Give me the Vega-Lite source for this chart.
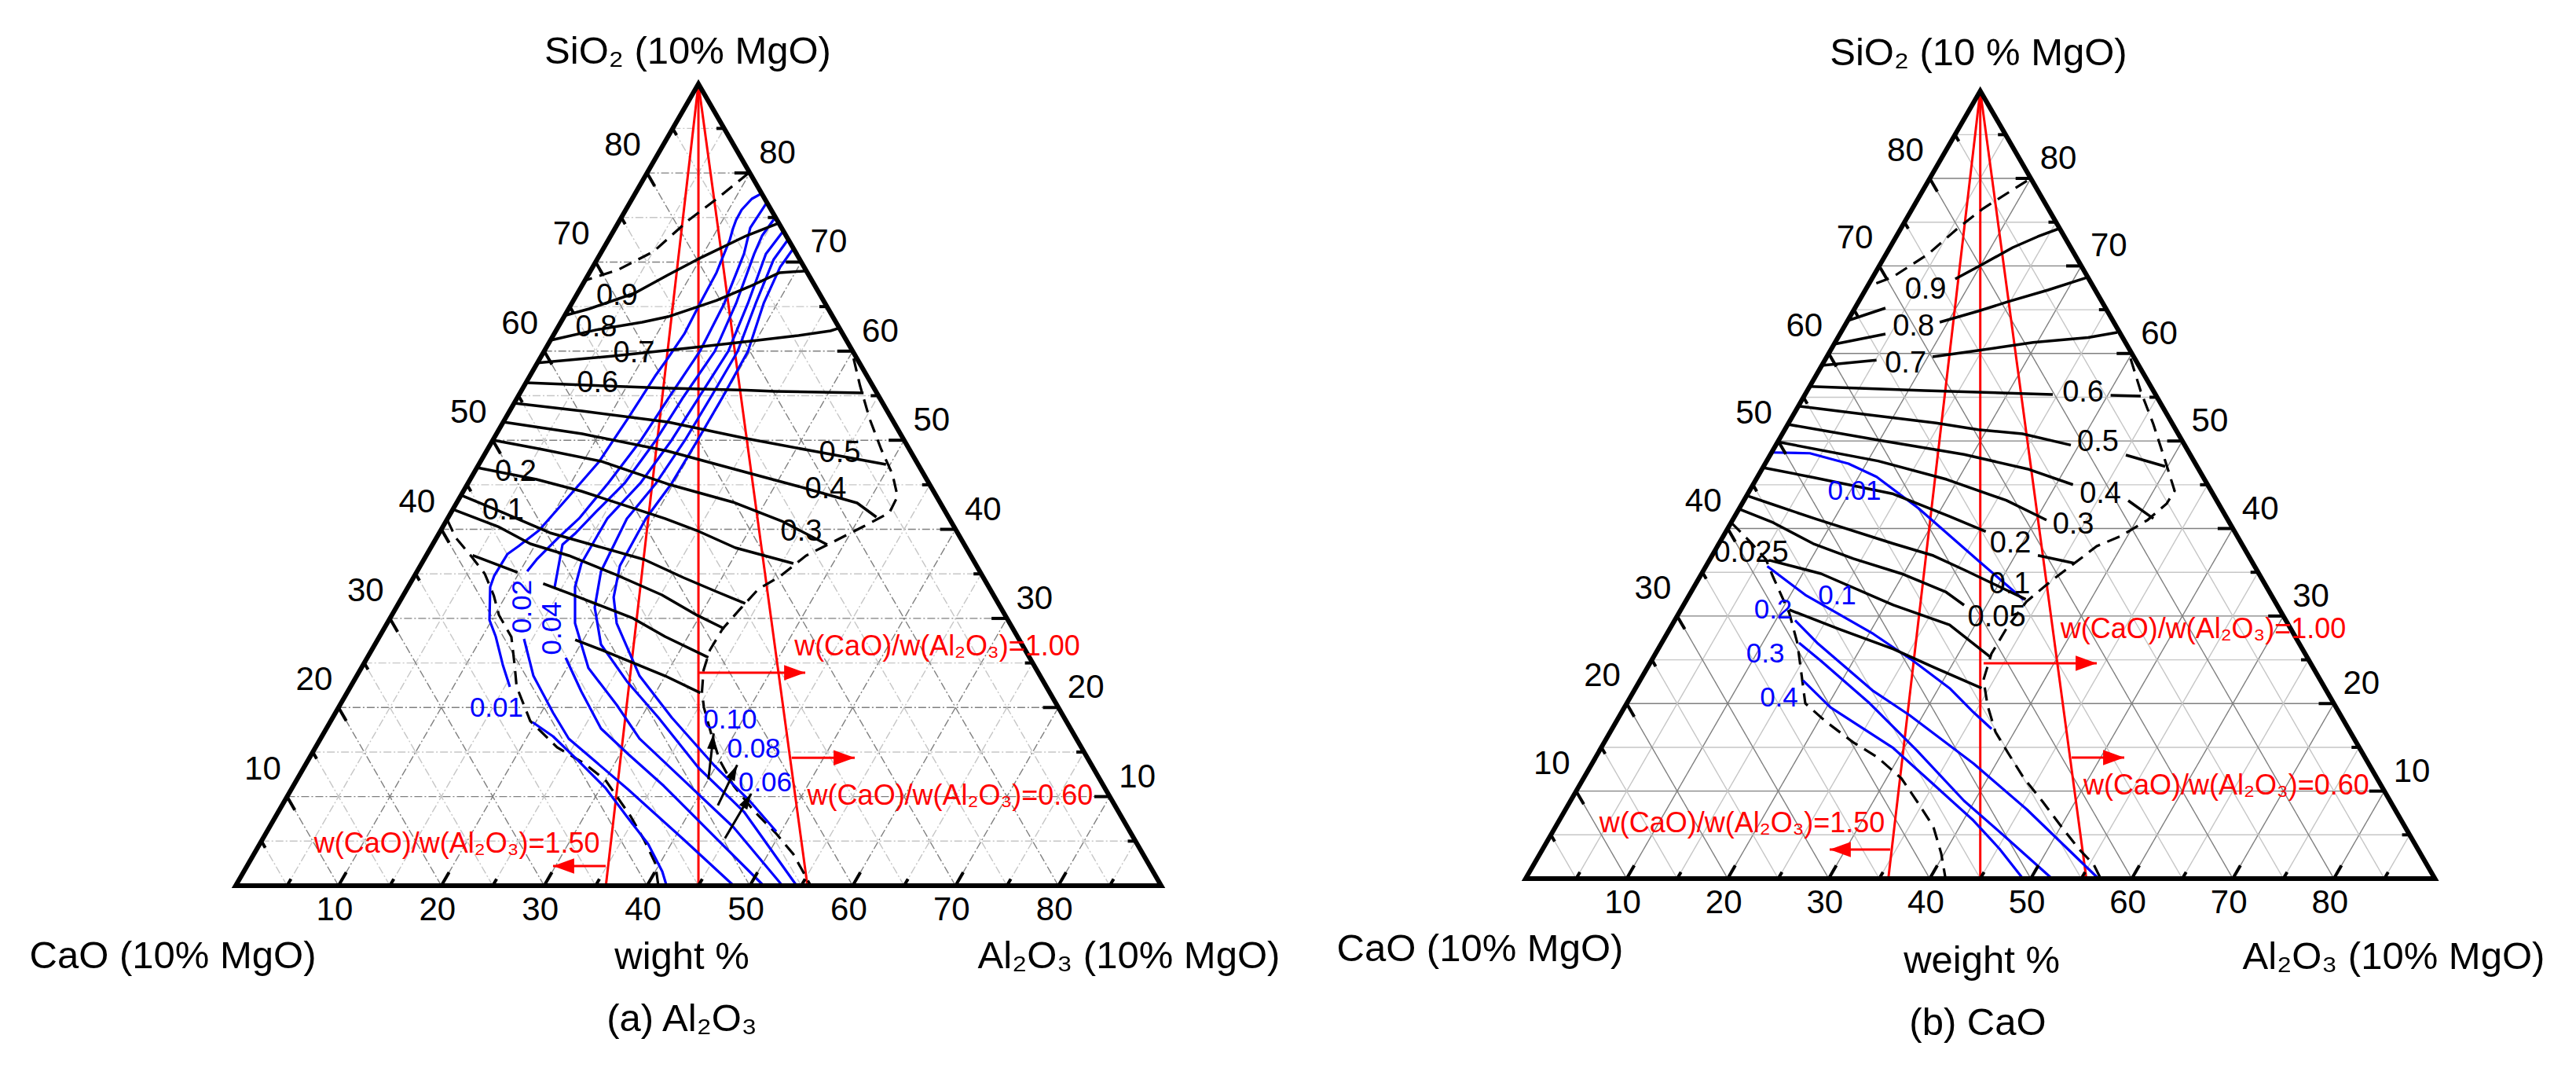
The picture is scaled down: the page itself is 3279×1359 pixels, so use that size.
{
"$schema":"https://vega.github.io/schema/vega-lite/v6.json",
"width":3279,"height":1359,"autosize":{"type":"none"},"padding":0,"background":"white",
"config":{"view":{"stroke":null},"font":"Liberation Sans"},
"datasets":{
"curves":[
{"p":"a","c":"ar15","k":"r","a":0,"s":90},{"p":"a","c":"ar15","k":"r","a":36,"s":0},
{"p":"a","c":"ar10","k":"r","a":0,"s":90},{"p":"a","c":"ar10","k":"r","a":45,"s":0},
{"p":"a","c":"ar06","k":"r","a":0,"s":90},{"p":"a","c":"ar06","k":"r","a":55.6,"s":0},
{"p":"a","c":"ad1","k":"d","a":9.9,"s":80},{"p":"a","c":"ad1","k":"d","a":8.24,"s":77.1},{"p":"a","c":"ad1","k":"d","a":6.7,"s":74.72},{"p":"a","c":"ad1","k":"d","a":5.05,"s":71.19},{"p":"a","c":"ad1","k":"d","a":2.66,"s":69.16},{"p":"a","c":"ad1","k":"d","a":0,"s":67.93},
{"p":"a","c":"ad2","k":"d","a":0,"s":41.11},{"p":"a","c":"ad2","k":"d","a":1.85,"s":39.08},{"p":"a","c":"ad2","k":"d","a":4.44,"s":36.96},{"p":"a","c":"ad2","k":"d","a":6.71,"s":35.02},{"p":"a","c":"ad2","k":"d","a":8.83,"s":32.55},{"p":"a","c":"ad2","k":"d","a":10.4,"s":30.39},{"p":"a","c":"ad2","k":"d","a":12.85,"s":27.92},{"p":"a","c":"ad2","k":"d","a":14.71,"s":24.82},{"p":"a","c":"ad2","k":"d","a":16.15,"s":22.34},{"p":"a","c":"ad2","k":"d","a":19.41,"s":18.48},{"p":"a","c":"ad2","k":"d","a":23.49,"s":15.53},{"p":"a","c":"ad2","k":"d","a":27.13,"s":13.67},{"p":"a","c":"ad2","k":"d","a":30.07,"s":11.82},{"p":"a","c":"ad2","k":"d","a":34.5,"s":7.8},{"p":"a","c":"ad2","k":"d","a":37.25,"s":5.03},{"p":"a","c":"ad2","k":"d","a":39.51,"s":2.56},{"p":"a","c":"ad2","k":"d","a":41.1,"s":0},
{"p":"a","c":"ad3","k":"d","a":30.49,"s":59.19},{"p":"a","c":"ad3","k":"d","a":32.67,"s":56.1},{"p":"a","c":"ad3","k":"d","a":35.45,"s":52.4},{"p":"a","c":"ad3","k":"d","a":38.3,"s":48.96},{"p":"a","c":"ad3","k":"d","a":40.78,"s":46.18},{"p":"a","c":"ad3","k":"d","a":42.51,"s":43.7},{"p":"a","c":"ad3","k":"d","a":42.64,"s":41.85},{"p":"a","c":"ad3","k":"d","a":40.88,"s":40.31},{"p":"a","c":"ad3","k":"d","a":38.64,"s":38.46},{"p":"a","c":"ad3","k":"d","a":36.94,"s":37.05},{"p":"a","c":"ad3","k":"d","a":35.6,"s":34.76},{"p":"a","c":"ad3","k":"d","a":34.17,"s":33.26},{"p":"a","c":"ad3","k":"d","a":33.48,"s":30.88},{"p":"a","c":"ad3","k":"d","a":32.94,"s":28.85},{"p":"a","c":"ad3","k":"d","a":32.89,"s":26.46},{"p":"a","c":"ad3","k":"d","a":33.41,"s":24.17},{"p":"a","c":"ad3","k":"d","a":34.45,"s":21.79},{"p":"a","c":"ad3","k":"d","a":35.52,"s":20.02},{"p":"a","c":"ad3","k":"d","a":37.67,"s":17.11},{"p":"a","c":"ad3","k":"d","a":40.0,"s":14.11},{"p":"a","c":"ad3","k":"d","a":42.83,"s":11.2},{"p":"a","c":"ad3","k":"d","a":46.33,"s":8.29},{"p":"a","c":"ad3","k":"d","a":49.56,"s":5.91},{"p":"a","c":"ad3","k":"d","a":52.47,"s":3.53},{"p":"a","c":"ad3","k":"d","a":55.92,"s":0},
{"p":"a","c":"ab01a","k":"b","a":12.32,"s":77.72},{"p":"a","c":"ab01a","k":"b","a":11.64,"s":77.1},{"p":"a","c":"ab01a","k":"b","a":11.27,"s":75.86},{"p":"a","c":"ab01a","k":"b","a":11.3,"s":74.72},{"p":"a","c":"ab01a","k":"b","a":11.48,"s":73.75},{"p":"a","c":"ab01a","k":"b","a":11.8,"s":72.51},{"p":"a","c":"ab01a","k":"b","a":12.35,"s":68.81},{"p":"a","c":"ab01a","k":"b","a":12.47,"s":65.37},{"p":"a","c":"ab01a","k":"b","a":12.66,"s":61.93},{"p":"a","c":"ab01a","k":"b","a":12.42,"s":59.19},{"p":"a","c":"ab01a","k":"b","a":12.2,"s":57.34},{"p":"a","c":"ab01a","k":"b","a":11.92,"s":52.4},{"p":"a","c":"ab01a","k":"b","a":11.55,"s":47.64},{"p":"a","c":"ab01a","k":"b","a":10.52,"s":43.58},{"p":"a","c":"ab01a","k":"b","a":9.55,"s":39.87},{"p":"a","c":"ab01a","k":"b","a":8.45,"s":38.11},{"p":"a","c":"ab01a","k":"b","a":7.82,"s":37.23},{"p":"a","c":"ab01a","k":"b","a":7.75,"s":34.76},{"p":"a","c":"ab01a","k":"b","a":7.99,"s":33.52},{"p":"a","c":"ab01a","k":"b","a":9.77,"s":29.82},{"p":"a","c":"ab01a","k":"b","a":11.31,"s":27.96},{"p":"a","c":"ab01a","k":"b","a":13.58,"s":24.79},{"p":"a","c":"ab01a","k":"b","a":15.5,"s":22.32},
{"p":"a","c":"ab01b","k":"b","a":19.7,"s":18.35},{"p":"a","c":"ab01b","k":"b","a":22.48,"s":16.76},{"p":"a","c":"ab01b","k":"b","a":26.29,"s":14.03},{"p":"a","c":"ab01b","k":"b","a":30.51,"s":10.94},{"p":"a","c":"ab01b","k":"b","a":34.16,"s":7.76},{"p":"a","c":"ab01b","k":"b","a":37.77,"s":4.68},{"p":"a","c":"ab01b","k":"b","a":40.69,"s":1.59},{"p":"a","c":"ab01b","k":"b","a":41.9,"s":0},
{"p":"a","c":"ab02a","k":"b","a":13.31,"s":76.66},{"p":"a","c":"ab02a","k":"b","a":13.12,"s":73.84},{"p":"a","c":"ab02a","k":"b","a":13.97,"s":70.93},{"p":"a","c":"ab02a","k":"b","a":14.83,"s":65.37},{"p":"a","c":"ab02a","k":"b","a":15.15,"s":59.99},{"p":"a","c":"ab02a","k":"b","a":14.74,"s":54.87},{"p":"a","c":"ab02a","k":"b","a":14.41,"s":50.02},{"p":"a","c":"ab02a","k":"b","a":13.63,"s":45.17},{"p":"a","c":"ab02a","k":"b","a":12.78,"s":41.2},{"p":"a","c":"ab02a","k":"b","a":11.89,"s":39.17},{"p":"a","c":"ab02a","k":"b","a":10.96,"s":36.61},{"p":"a","c":"ab02a","k":"b","a":10.7,"s":35.29},
{"p":"a","c":"ab02b","k":"b","a":14.19,"s":27.7},{"p":"a","c":"ab02b","k":"b","a":17.18,"s":23.55},{"p":"a","c":"ab02b","k":"b","a":21.16,"s":19.41},{"p":"a","c":"ab02b","k":"b","a":24.14,"s":16.5},{"p":"a","c":"ab02b","k":"b","a":32.82,"s":10.76},{"p":"a","c":"ab02b","k":"b","a":40.94,"s":5.2},{"p":"a","c":"ab02b","k":"b","a":48.43,"s":0},
{"p":"a","c":"ab04a","k":"b","a":14.98,"s":75.16},{"p":"a","c":"ab04a","k":"b","a":14.71,"s":72.95},{"p":"a","c":"ab04a","k":"b","a":14.96,"s":70.93},{"p":"a","c":"ab04a","k":"b","a":15.98,"s":65.37},{"p":"a","c":"ab04a","k":"b","a":16.6,"s":59.99},{"p":"a","c":"ab04a","k":"b","a":16.11,"s":54.87},{"p":"a","c":"ab04a","k":"b","a":15.86,"s":50.02},{"p":"a","c":"ab04a","k":"b","a":15.23,"s":45.17},{"p":"a","c":"ab04a","k":"b","a":14.1,"s":42.08},{"p":"a","c":"ab04a","k":"b","a":13.28,"s":39.61},{"p":"a","c":"ab04a","k":"b","a":12.64,"s":38.28},{"p":"a","c":"ab04a","k":"b","a":14.26,"s":33.52},
{"p":"a","c":"ab04b","k":"b","a":19.3,"s":25.58},{"p":"a","c":"ab04b","k":"b","a":22.72,"s":21.79},{"p":"a","c":"ab04b","k":"b","a":26.7,"s":17.64},{"p":"a","c":"ab04b","k":"b","a":30.84,"s":14.73},{"p":"a","c":"ab04b","k":"b","a":36.03,"s":11.2},{"p":"a","c":"ab04b","k":"b","a":44.11,"s":5.29},{"p":"a","c":"ab04b","k":"b","a":51.34,"s":0},
{"p":"a","c":"ab06","k":"b","a":16.51,"s":73.48},{"p":"a","c":"ab06","k":"b","a":16.1,"s":70.93},{"p":"a","c":"ab06","k":"b","a":17.13,"s":65.37},{"p":"a","c":"ab06","k":"b","a":17.91,"s":59.99},{"p":"a","c":"ab06","k":"b","a":17.64,"s":54.87},{"p":"a","c":"ab06","k":"b","a":17.39,"s":50.02},{"p":"a","c":"ab06","k":"b","a":16.76,"s":45.17},{"p":"a","c":"ab06","k":"b","a":15.53,"s":41.2},{"p":"a","c":"ab06","k":"b","a":15.53,"s":36.17},{"p":"a","c":"ab06","k":"b","a":16.24,"s":33.52},{"p":"a","c":"ab06","k":"b","a":18.27,"s":29.46},{"p":"a","c":"ab06","k":"b","a":22.08,"s":24.44},{"p":"a","c":"ab06","k":"b","a":26.91,"s":20.29},{"p":"a","c":"ab06","k":"b","a":31.02,"s":16.5},{"p":"a","c":"ab06","k":"b","a":37.28,"s":12.09},{"p":"a","c":"ab06","k":"b","a":45.17,"s":6.53},{"p":"a","c":"ab06","k":"b","a":53.17,"s":0},
{"p":"a","c":"ab08","k":"b","a":17.45,"s":72.51},{"p":"a","c":"ab08","k":"b","a":17.17,"s":70.31},{"p":"a","c":"ab08","k":"b","a":17.89,"s":65.37},{"p":"a","c":"ab08","k":"b","a":18.82,"s":59.99},{"p":"a","c":"ab08","k":"b","a":18.79,"s":54.87},{"p":"a","c":"ab08","k":"b","a":18.69,"s":50.02},{"p":"a","c":"ab08","k":"b","a":18.29,"s":45.17},{"p":"a","c":"ab08","k":"b","a":17.44,"s":41.2},{"p":"a","c":"ab08","k":"b","a":17.88,"s":35.29},{"p":"a","c":"ab08","k":"b","a":19.3,"s":31.23},{"p":"a","c":"ab08","k":"b","a":21.98,"s":27.08},{"p":"a","c":"ab08","k":"b","a":26.57,"s":22.94},{"p":"a","c":"ab08","k":"b","a":31.66,"s":18.88},{"p":"a","c":"ab08","k":"b","a":38.39,"s":13.23},{"p":"a","c":"ab08","k":"b","a":45.29,"s":8.29},{"p":"a","c":"ab08","k":"b","a":54.55,"s":0},
{"p":"a","c":"ab10","k":"b","a":18.47,"s":71.54},{"p":"a","c":"ab10","k":"b","a":18.23,"s":69.43},{"p":"a","c":"ab10","k":"b","a":18.66,"s":65.37},{"p":"a","c":"ab10","k":"b","a":19.82,"s":59.99},{"p":"a","c":"ab10","k":"b","a":19.93,"s":54.87},{"p":"a","c":"ab10","k":"b","a":19.91,"s":50.02},{"p":"a","c":"ab10","k":"b","a":19.82,"s":45.17},{"p":"a","c":"ab10","k":"b","a":19.28,"s":41.2},{"p":"a","c":"ab10","k":"b","a":19.41,"s":35.9},{"p":"a","c":"ab10","k":"b","a":20.57,"s":32.37},{"p":"a","c":"ab10","k":"b","a":22.32,"s":29.46},{"p":"a","c":"ab10","k":"b","a":27.5,"s":23.55},{"p":"a","c":"ab10","k":"b","a":32.96,"s":18.88},{"p":"a","c":"ab10","k":"b","a":39.9,"s":13.41},{"p":"a","c":"ab10","k":"b","a":45.32,"s":9.44},{"p":"a","c":"ab10","k":"b","a":49.52,"s":6.09},
{"p":"a","c":"ak9","k":"k","a":0,"s":64},{"p":"a","c":"ak9","k":"k","a":2.0,"s":64.75},{"p":"a","c":"ak9","k":"k","a":5.55,"s":66.51},{"p":"a","c":"ak9","k":"k","a":7.75,"s":68.54},{"p":"a","c":"ak9","k":"k","a":9.77,"s":70.31},{"p":"a","c":"ak9","k":"k","a":13.18,"s":72.95},{"p":"a","c":"ak9","k":"k","a":15.67,"s":74.4},
{"p":"a","c":"ak8","k":"k","a":0,"s":61.22},{"p":"a","c":"ak8","k":"k","a":3.9,"s":62.4},{"p":"a","c":"ak8","k":"k","a":7.9,"s":63.25},{"p":"a","c":"ak8","k":"k","a":10.1,"s":63.86},{"p":"a","c":"ak8","k":"k","a":13.9,"s":65.68},{"p":"a","c":"ak8","k":"k","a":16.3,"s":67.22},{"p":"a","c":"ak8","k":"k","a":18.5,"s":68.81},{"p":"a","c":"ak8","k":"k","a":21.0,"s":69.0},
{"p":"a","c":"ak7","k":"k","a":0,"s":58.69},{"p":"a","c":"ak7","k":"k","a":7.0,"s":59.46},{"p":"a","c":"ak7","k":"k","a":13.8,"s":60.34},{"p":"a","c":"ak7","k":"k","a":19.4,"s":61.1},{"p":"a","c":"ak7","k":"k","a":23.8,"s":61.75},{"p":"a","c":"ak7","k":"k","a":26.7,"s":62.28},{"p":"a","c":"ak7","k":"k","a":27.4,"s":62.6},
{"p":"a","c":"ak6","k":"k","a":0,"s":56.46},{"p":"a","c":"ak6","k":"k","a":13.6,"s":55.85},{"p":"a","c":"ak6","k":"k","a":21.85,"s":55.61},{"p":"a","c":"ak6","k":"k","a":24.7,"s":55.49},{"p":"a","c":"ak6","k":"k","a":33.4,"s":55.31},
{"p":"a","c":"ak5","k":"k","a":0,"s":54.16},{"p":"a","c":"ak5","k":"k","a":7.05,"s":53.28},{"p":"a","c":"ak5","k":"k","a":16.0,"s":52.05},{"p":"a","c":"ak5","k":"k","a":24.56,"s":50.19},{"p":"a","c":"ak5","k":"k","a":32.27,"s":48.69},{"p":"a","c":"ak5","k":"k","a":39.6,"s":47.28},
{"p":"a","c":"ak4","k":"k","a":0,"s":52.05},{"p":"a","c":"ak4","k":"k","a":8.33,"s":50.72},{"p":"a","c":"ak4","k":"k","a":17.63,"s":48.78},{"p":"a","c":"ak4","k":"k","a":24.96,"s":46.8},{"p":"a","c":"ak4","k":"k","a":32.99,"s":44.64},{"p":"a","c":"ak4","k":"k","a":38.95,"s":42.96},{"p":"a","c":"ak4","k":"k","a":41.62,"s":41.37},
{"p":"a","c":"ak3","k":"k","a":0,"s":50.02},{"p":"a","c":"ak3","k":"k","a":5.39,"s":48.96},{"p":"a","c":"ak3","k":"k","a":11.7,"s":47.64},{"p":"a","c":"ak3","k":"k","a":19.48,"s":45.08},{"p":"a","c":"ak3","k":"k","a":26.83,"s":43.05},{"p":"a","c":"ak3","k":"k","a":32.63,"s":40.93},{"p":"a","c":"ak3","k":"k","a":38.38,"s":38.28},
{"p":"a","c":"ak2","k":"k","a":0,"s":46.93},{"p":"a","c":"ak2","k":"k","a":6.45,"s":45.61},{"p":"a","c":"ak2","k":"k","a":11.47,"s":44.28},{"p":"a","c":"ak2","k":"k","a":21.15,"s":41.2},{"p":"a","c":"ak2","k":"k","a":24.9,"s":39.87},{"p":"a","c":"ak2","k":"k","a":29.62,"s":37.93},{"p":"a","c":"ak2","k":"k","a":36.15,"s":36.17},
{"p":"a","c":"ak1","k":"k","a":0,"s":43.84},{"p":"a","c":"ak1","k":"k","a":5.02,"s":41.9},{"p":"a","c":"ak1","k":"k","a":10.75,"s":39.61},{"p":"a","c":"ak1","k":"k","a":16.09,"s":38.11},{"p":"a","c":"ak1","k":"k","a":21.42,"s":36.61},{"p":"a","c":"ak1","k":"k","a":26.25,"s":34.58},{"p":"a","c":"ak1","k":"k","a":30.06,"s":33.08},{"p":"a","c":"ak1","k":"k","a":33.72,"s":31.67},
{"p":"a","c":"akx1","k":"k","a":0,"s":42.25},{"p":"a","c":"akx1","k":"k","a":5.36,"s":40.31},{"p":"a","c":"akx1","k":"k","a":9.47,"s":38.37},{"p":"a","c":"akx1","k":"k","a":13.87,"s":37.05},{"p":"a","c":"akx1","k":"k","a":19.24,"s":35.02},{"p":"a","c":"akx1","k":"k","a":25.12,"s":32.64},{"p":"a","c":"akx1","k":"k","a":29.7,"s":30.35},{"p":"a","c":"akx1","k":"k","a":33.1,"s":28.85},
{"p":"a","c":"akx2a","k":"k","a":4.5,"s":37.08},{"p":"a","c":"akx2a","k":"k","a":9.83,"s":35.17},
{"p":"a","c":"akx2b","k":"k","a":12.95,"s":33.9},{"p":"a","c":"akx2b","k":"k","a":15.98,"s":32.82},{"p":"a","c":"akx2b","k":"k","a":23.62,"s":30.02},{"p":"a","c":"akx2b","k":"k","a":27.77,"s":27.96},{"p":"a","c":"akx2b","k":"k","a":33.16,"s":25.61},
{"p":"a","c":"akx3","k":"k","a":19.21,"s":27.61},{"p":"a","c":"akx3","k":"k","a":22.27,"s":26.49},{"p":"a","c":"akx3","k":"k","a":26.12,"s":25.03},{"p":"a","c":"akx3","k":"k","a":29.98,"s":23.55},{"p":"a","c":"akx3","k":"k","a":34.36,"s":21.64},
{"p":"b","c":"br15","k":"r","a":0,"s":90},{"p":"b","c":"br15","k":"r","a":35.9,"s":0},
{"p":"b","c":"br10","k":"r","a":0,"s":90},{"p":"b","c":"br10","k":"r","a":45,"s":0},
{"p":"b","c":"br06","k":"r","a":0,"s":90},{"p":"b","c":"br06","k":"r","a":55.5,"s":0},
{"p":"b","c":"bd1","k":"d","a":9.75,"s":79.73},{"p":"b","c":"bd1","k":"d","a":6.99,"s":76.54},{"p":"b","c":"bd1","k":"d","a":5.62,"s":74.3},{"p":"b","c":"bd1","k":"d","a":4.15,"s":71.33},{"p":"b","c":"bd1","k":"d","a":1.95,"s":68.72},{"p":"b","c":"bd1","k":"d","a":0,"s":67.61},
{"p":"b","c":"bd2","k":"d","a":0,"s":40.68},{"p":"b","c":"bd2","k":"d","a":2.82,"s":38.61},{"p":"b","c":"bd2","k":"d","a":5.56,"s":36.46},{"p":"b","c":"bd2","k":"d","a":7.25,"s":34.48},{"p":"b","c":"bd2","k":"d","a":10.92,"s":30.35},{"p":"b","c":"bd2","k":"d","a":13.42,"s":26.94},{"p":"b","c":"bd2","k":"d","a":15.55,"s":23.48},{"p":"b","c":"bd2","k":"d","a":17.67,"s":20.02},{"p":"b","c":"bd2","k":"d","a":20.68,"s":17.98},{"p":"b","c":"bd2","k":"d","a":24.64,"s":15.57},{"p":"b","c":"bd2","k":"d","a":27.91,"s":13.85},{"p":"b","c":"bd2","k":"d","a":31.48,"s":11.44},{"p":"b","c":"bd2","k":"d","a":34.45,"s":8.71},{"p":"b","c":"bd2","k":"d","a":37.39,"s":5.93},{"p":"b","c":"bd2","k":"d","a":39.7,"s":2.87},{"p":"b","c":"bd2","k":"d","a":41.56,"s":0},
{"p":"b","c":"bd3","k":"d","a":30.17,"s":59.41},{"p":"b","c":"bd3","k":"d","a":33.05,"s":55.67},{"p":"b","c":"bd3","k":"d","a":36.15,"s":51.95},{"p":"b","c":"bd3","k":"d","a":39.62,"s":47.5},{"p":"b","c":"bd3","k":"d","a":42.08,"s":44.31},{"p":"b","c":"bd3","k":"d","a":42.03,"s":42.83},{"p":"b","c":"bd3","k":"d","a":41.07,"s":40.96},{"p":"b","c":"bd3","k":"d","a":39.29,"s":39.1},{"p":"b","c":"bd3","k":"d","a":37.54,"s":37.98},{"p":"b","c":"bd3","k":"d","a":36.24,"s":35.93},{"p":"b","c":"bd3","k":"d","a":34.93,"s":33.88},{"p":"b","c":"bd3","k":"d","a":33.75,"s":31.64},{"p":"b","c":"bd3","k":"d","a":33.31,"s":28.66},{"p":"b","c":"bd3","k":"d","a":33.26,"s":25.68},{"p":"b","c":"bd3","k":"d","a":33.96,"s":22.72},{"p":"b","c":"bd3","k":"d","a":35.85,"s":19.75},{"p":"b","c":"bd3","k":"d","a":38.13,"s":16.75},{"p":"b","c":"bd3","k":"d","a":40.56,"s":14.37},{"p":"b","c":"bd3","k":"d","a":43.56,"s":11.49},{"p":"b","c":"bd3","k":"d","a":46.77,"s":8.8},{"p":"b","c":"bd3","k":"d","a":50.07,"s":5.93},{"p":"b","c":"bd3","k":"d","a":53.04,"s":3.41},{"p":"b","c":"bd3","k":"d","a":55.41,"s":1.62},{"p":"b","c":"bd3","k":"d","a":56.92,"s":0},
{"p":"b","c":"bb001","k":"b","a":0,"s":48.69},{"p":"b","c":"bb001","k":"b","a":3.83,"s":48.6},{"p":"b","c":"bb001","k":"b","a":8.25,"s":47.41},{"p":"b","c":"bb001","k":"b","a":11.78,"s":45.91},{"p":"b","c":"bb001","k":"b","a":17.72,"s":42.32},{"p":"b","c":"bb001","k":"b","a":26.62,"s":36.34},{"p":"b","c":"bb001","k":"b","a":33.38,"s":31.85},
{"p":"b","c":"bb01","k":"b","a":6.07,"s":35.69},{"p":"b","c":"bb01","k":"b","a":11.48,"s":32.41},{"p":"b","c":"bb01","k":"b","a":20.45,"s":27.95},{"p":"b","c":"bb01","k":"b","a":25.97,"s":24.85},{"p":"b","c":"bb01","k":"b","a":31.08,"s":21.76},{"p":"b","c":"bb01","k":"b","a":34.82,"s":19.01},{"p":"b","c":"bb01","k":"b","a":37.56,"s":17.11},
{"p":"b","c":"bb02","k":"b","a":11.92,"s":29.5},{"p":"b","c":"bb02","k":"b","a":15.38,"s":26.94},{"p":"b","c":"bb02","k":"b","a":23.71,"s":21.42},{"p":"b","c":"bb02","k":"b","a":28.65,"s":18.68},{"p":"b","c":"bb02","k":"b","a":37.75,"s":13.15},{"p":"b","c":"bb02","k":"b","a":45.66,"s":7.9},{"p":"b","c":"bb02","k":"b","a":56.7,"s":0},
{"p":"b","c":"bb03","k":"b","a":13.59,"s":26.94},{"p":"b","c":"bb03","k":"b","a":16.8,"s":24.87},{"p":"b","c":"bb03","k":"b","a":24.05,"s":20.02},{"p":"b","c":"bb03","k":"b","a":31.4,"s":14.64},{"p":"b","c":"bb03","k":"b","a":38.95,"s":8.89},{"p":"b","c":"bb03","k":"b","a":45.5,"s":4.49},{"p":"b","c":"bb03","k":"b","a":52.1,"s":0},
{"p":"b","c":"bb04","k":"b","a":16.14,"s":22.63},{"p":"b","c":"bb04","k":"b","a":20.39,"s":19.57},{"p":"b","c":"bb04","k":"b","a":28.94,"s":14.91},{"p":"b","c":"bb04","k":"b","a":34.98,"s":10.77},{"p":"b","c":"bb04","k":"b","a":41.0,"s":6.64},{"p":"b","c":"bb04","k":"b","a":45.19,"s":3.41},{"p":"b","c":"bb04","k":"b","a":49.22,"s":0},
{"p":"b","c":"bk9a","k":"k","a":0,"s":63.75},{"p":"b","c":"bk9a","k":"k","a":3.02,"s":65.19},
{"p":"b","c":"bk9b","k":"k","a":8.27,"s":68.51},{"p":"b","c":"bk9b","k":"k","a":10.15,"s":70.22},{"p":"b","c":"bk9b","k":"k","a":12.16,"s":72.1},{"p":"b","c":"bk9b","k":"k","a":14.02,"s":73.36},{"p":"b","c":"bk9b","k":"k","a":15.73,"s":74.3},
{"p":"b","c":"bk8a","k":"k","a":0,"s":61.06},{"p":"b","c":"bk8a","k":"k","a":4.5,"s":62.23},
{"p":"b","c":"bk8b","k":"k","a":9.2,"s":63.57},{"p":"b","c":"bk8b","k":"k","a":12.35,"s":64.83},{"p":"b","c":"bk8b","k":"k","a":14.79,"s":65.91},{"p":"b","c":"bk8b","k":"k","a":18.09,"s":67.25},{"p":"b","c":"bk8b","k":"k","a":21.32,"s":68.72},
{"p":"b","c":"bk7a","k":"k","a":0,"s":58.63},{"p":"b","c":"bk7a","k":"k","a":5.11,"s":59.24},
{"p":"b","c":"bk7b","k":"k","a":10.47,"s":59.62},{"p":"b","c":"bk7b","k":"k","a":14.59,"s":60.34},{"p":"b","c":"bk7b","k":"k","a":19.59,"s":61.26},{"p":"b","c":"bk7b","k":"k","a":24.77,"s":61.82},{"p":"b","c":"bk7b","k":"k","a":27.35,"s":62.4},
{"p":"b","c":"bk6a","k":"k","a":0,"s":56.24},{"p":"b","c":"bk6a","k":"k","a":11.62,"s":55.76},{"p":"b","c":"bk6a","k":"k","a":24.52,"s":55.31},
{"p":"b","c":"bk6b","k":"k","a":30.29,"s":55.22},{"p":"b","c":"bk6b","k":"k","a":33.32,"s":55.13},
{"p":"b","c":"bk5a","k":"k","a":0,"s":53.99},{"p":"b","c":"bk5a","k":"k","a":7.57,"s":52.98},{"p":"b","c":"bk5a","k":"k","a":14.6,"s":52.05},{"p":"b","c":"bk5a","k":"k","a":19.14,"s":51.3},{"p":"b","c":"bk5a","k":"k","a":23.77,"s":50.82},{"p":"b","c":"bk5a","k":"k","a":29.2,"s":49.53},
{"p":"b","c":"bk5b","k":"k","a":35.21,"s":48.4},{"p":"b","c":"bk5b","k":"k","a":39.75,"s":47.1},
{"p":"b","c":"bk4a","k":"k","a":0,"s":51.9},{"p":"b","c":"bk4a","k":"k","a":9.85,"s":50.1},{"p":"b","c":"bk4a","k":"k","a":19.16,"s":48.46},{"p":"b","c":"bk4a","k":"k","a":26.25,"s":46.81},{"p":"b","c":"bk4a","k":"k","a":31.67,"s":45.01},
{"p":"b","c":"bk4b","k":"k","a":38.05,"s":43.19},{"p":"b","c":"bk4b","k":"k","a":41.57,"s":41.13},
{"p":"b","c":"bk3","k":"k","a":0,"s":49.9},{"p":"b","c":"bk3","k":"k","a":11.04,"s":47.71},{"p":"b","c":"bk3","k":"k","a":18.87,"s":45.61},{"p":"b","c":"bk3","k":"k","a":25.96,"s":43.22},{"p":"b","c":"bk3","k":"k","a":31.07,"s":40.97},
{"p":"b","c":"bk2a","k":"k","a":0,"s":46.96},{"p":"b","c":"bk2a","k":"k","a":5.54,"s":45.84},{"p":"b","c":"bk2a","k":"k","a":14.42,"s":43.95},{"p":"b","c":"bk2a","k":"k","a":21.27,"s":41.39},{"p":"b","c":"bk2a","k":"k","a":25.72,"s":39.65},
{"p":"b","c":"bk2b","k":"k","a":32.24,"s":36.93},{"p":"b","c":"bk2b","k":"k","a":36.32,"s":36.03},
{"p":"b","c":"bk1","k":"k","a":0,"s":43.77},{"p":"b","c":"bk1","k":"k","a":3.12,"s":42.74},{"p":"b","c":"bk1","k":"k","a":8.33,"s":41.04},{"p":"b","c":"bk1","k":"k","a":17.26,"s":38.27},{"p":"b","c":"bk1","k":"k","a":21.91,"s":36.9},{"p":"b","c":"bk1","k":"k","a":25.95,"s":35.2},{"p":"b","c":"bk1","k":"k","a":33.55,"s":31.91},
{"p":"b","c":"bk05","k":"k","a":0,"s":42.23},{"p":"b","c":"bk05","k":"k","a":4.15,"s":40.68},{"p":"b","c":"bk05","k":"k","a":9.33,"s":38.27},{"p":"b","c":"bk05","k":"k","a":14.16,"s":36.55},{"p":"b","c":"bk05","k":"k","a":19.78,"s":34.84},{"p":"b","c":"bk05","k":"k","a":25.18,"s":32.77},{"p":"b","c":"bk05","k":"k","a":27.77,"s":31.25},
{"p":"b","c":"bk025","k":"k","a":5.92,"s":36.38},{"p":"b","c":"bk025","k":"k","a":11.82,"s":34.84},{"p":"b","c":"bk025","k":"k","a":20.77,"s":31.25},{"p":"b","c":"bk025","k":"k","a":27.46,"s":29.0},{"p":"b","c":"bk025","k":"k","a":33.24,"s":25.38},
{"p":"b","c":"bkx","k":"k","a":10.74,"s":30.71},{"p":"b","c":"bkx","k":"k","a":16.67,"s":28.55},{"p":"b","c":"bkx","k":"k","a":23.28,"s":26.23},{"p":"b","c":"bkx","k":"k","a":28.27,"s":24.17},{"p":"b","c":"bkx","k":"k","a":34.25,"s":21.76}
],
"labels":[
{"p":"a","k":"k","t":"0.9","a":4.0,"s":66.16},{"p":"a","k":"k","t":"0.8","a":3.75,"s":62.63},{"p":"a","k":"k","t":"0.7","a":8.87,"s":59.72},{"p":"a","k":"k","t":"0.6","a":7.0,"s":56.41},{"p":"a","k":"k","t":"0.5","a":34.49,"s":48.52},{"p":"a","k":"k","t":"0.4","a":35.14,"s":44.46},{"p":"a","k":"k","t":"0.3","a":35.15,"s":39.7},{"p":"a","k":"k","t":"0.2","a":4.05,"s":46.36},{"p":"a","k":"k","t":"0.1","a":4.97,"s":42.08},
{"p":"a","k":"b","t":"0.01","a":15.39,"s":19.94},{"p":"a","k":"b","t":"0.10","a":38.8,"s":18.57},{"p":"a","k":"b","t":"0.08","a":42.73,"s":15.31},{"p":"a","k":"b","t":"0.06","a":45.69,"s":11.6},
{"p":"a","k":"v","t":"0.02","a":12.26,"s":31.32},{"p":"a","k":"v","t":"0.04","a":16.38,"s":28.89},
{"p":"a","k":"r","t":"w(CaO)/w(Al\u2082O\u2083)=1.50","a":19.18,"s":4.67},{"p":"a","k":"r","t":"w(CaO)/w(Al\u2082O\u2083)=1.00","a":54.81,"s":26.82},{"p":"a","k":"r","t":"w(CaO)/w(Al\u2082O\u2083)=0.60","a":64.45,"s":10.06},
{"p":"b","k":"k","t":"0.9","a":5.96,"s":67.25},{"p":"b","k":"k","t":"0.8","a":6.87,"s":63.03},{"p":"b","k":"k","t":"0.7","a":8.2,"s":58.81},{"p":"b","k":"k","t":"0.6","a":27.43,"s":55.49},{"p":"b","k":"k","t":"0.5","a":31.75,"s":49.79},{"p":"b","k":"k","t":"0.4","a":34.91,"s":43.95},{"p":"b","k":"k","t":"0.3","a":34.0,"s":40.41},{"p":"b","k":"k","t":"0.2","a":28.86,"s":38.25},{"p":"b","k":"k","t":"0.1","a":31.13,"s":33.55},{"p":"b","k":"k","t":"0.05","a":31.74,"s":29.77},{"p":"b","k":"k","t":"0.025","a":3.74,"s":37.15},
{"p":"b","k":"b","t":"0.01","a":10.41,"s":44.27},{"p":"b","k":"b","t":"0.1","a":14.66,"s":32.34},{"p":"b","k":"b","t":"0.2","a":9.14,"s":30.71},{"p":"b","k":"b","t":"0.3","a":10.86,"s":25.72},{"p":"b","k":"b","t":"0.4","a":14.75,"s":20.65},
{"p":"b","k":"r","t":"w(CaO)/w(Al\u2082O\u2083)=1.50","a":18.28,"s":6.29},{"p":"b","k":"r","t":"w(CaO)/w(Al\u2082O\u2083)=1.00","a":52.84,"s":28.46},{"p":"b","k":"r","t":"w(CaO)/w(Al\u2082O\u2083)=0.60","a":64.06,"s":10.6}
],
"arrows":[
{"p":"a","k":"k","a":40.0,"s":11.94,"a2":37.93,"s2":17.09},{"p":"a","k":"k","a":42.39,"s":9.0,"a2":41.99,"s2":13.56},{"p":"a","k":"k","a":44.92,"s":5.32,"a2":44.97,"s2":10.32},
{"p":"a","k":"r","a":34.88,"s":2.2,"a2":29.76,"s2":2.2},{"p":"a","k":"r","a":33.05,"s":23.9,"a2":43.44,"s2":23.9},{"p":"a","k":"r","a":46.88,"s":14.36,"a2":53.02,"s2":14.36},
{"p":"b","k":"r","a":34.42,"s":3.32,"a2":28.43,"s2":3.32},{"p":"b","k":"r","a":33.03,"s":24.6,"a2":44.23,"s2":24.6},{"p":"b","k":"r","a":47.13,"s":13.83,"a2":52.34,"s2":13.83}
],
"titles":[
{"p":"a","t":"SiO\u2082 (10% MgO)","a":-2.17,"s":92.27},{"p":"a","t":"CaO (10% MgO)","a":-1.49,"s":-9.24},{"p":"a","t":"wight %","a":48.07,"s":-9.35},{"p":"a","t":"Al\u2082O\u2083 (10% MgO)","a":91.48,"s":-9.24},{"p":"a","t":"(a) Al\u2082O\u2083","a":51.54,"s":-16.29},
{"p":"b","t":"SiO\u2082 (10 % MgO)","a":-1.64,"s":92.93},{"p":"b","t":"CaO (10% MgO)","a":0.2,"s":-9.43},{"p":"b","t":"weight %","a":50.53,"s":-10.77},{"p":"b","t":"Al\u2082O\u2083 (10% MgO)","a":91.09,"s":-10.33},{"p":"b","t":"(b) CaO","a":53.67,"s":-17.84}
],
"grid":[
{"d":"s","v":[5,10,15,20,25,30,35,40,45,50,55,60,65,70,75,80,85],"p":["a","b"]},
{"d":"a","v":[5,10,15,20,25,30,35,40,45,50,55,60,65,70,75,80,85],"p":["a","b"]},
{"d":"c","v":[5,10,15,20,25,30,35,40,45,50,55,60,65,70,75,80,85],"p":["a","b"]}
],
"ticks":[
{"e":"B","v":[5,10,15,20,25,30,35,40,45,50,55,60,65,70,75,80,85],"p":["a","b"]},
{"e":"L","v":[5,10,15,20,25,30,35,40,45,50,55,60,65,70,75,80,85],"p":["a","b"]},
{"e":"R","v":[5,10,15,20,25,30,35,40,45,50,55,60,65,70,75,80,85],"p":["a","b"]}
],
"ticklabels":[
{"e":"B","v":[10,20,30,40,50,60,70,80],"p":["a","b"]},
{"e":"L","v":[10,20,30,40,50,60,70,80],"p":["a","b"]},
{"e":"R","v":[10,20,30,40,50,60,70,80],"p":["a","b"]}
],
"frame":[
{"a":0,"s":0,"p":["a","b"]},{"a":90,"s":0,"p":["a","b"]},{"a":0,"s":90,"p":["a","b"]},{"a":0,"s":0,"p":["a","b"]},{"a":90,"s":0,"p":["a","b"]}
]
},
"layer":[
{"data":{"name":"grid"},
 "transform":[{"flatten":["v"]},{"flatten":["p"]},
  {"calculate":"datum.d=='s'?0:(datum.d=='a'?datum.v:90-datum.v)","as":"a"},
  {"calculate":"datum.d=='s'?datum.v:0","as":"s"},
  {"calculate":"datum.d=='s'?90-datum.v:(datum.d=='a'?datum.v:0)","as":"a2"},
  {"calculate":"datum.d=='s'?datum.v:90-datum.v","as":"s2"},
  {"calculate":"datum.p=='b'?0.98243:1","as":"kk"},
  {"calculate":"(datum.p=='b'?125.44:0)+datum.kk*(datum.a+datum.s/2)","as":"X"},
  {"calculate":"(datum.p=='b'?0.6875:0)+datum.kk*datum.s*0.8660254","as":"Y"},
  {"calculate":"(datum.p=='b'?125.44:0)+datum.kk*(datum.a2+datum.s2/2)","as":"X2"},
  {"calculate":"(datum.p=='b'?0.6875:0)+datum.kk*datum.s2*0.8660254","as":"Y2"}],
 "mark":{"type":"rule","strokeWidth":1.4},
 "encoding":{
  "x":{"field":"X","type":"quantitative","scale":{"domain":[-22.918,227.58],"nice":false,"zero":false},"axis":null},
  "y":{"field":"Y","type":"quantitative","scale":{"domain":[-17.723,86.096],"nice":false,"zero":false},"axis":null},
  "x2":{"field":"X2"},"y2":{"field":"Y2"},
  "color":{"condition":{"test":"datum.v % 10 == 0","value":"#808080"},"value":"#c6c6c6"},
  "strokeDash":{"condition":{"test":"datum.p=='a'","value":[10,3,2,3]},"value":[1,0]}}},
{"data":{"name":"curves"},
 "transform":[{"filter":"datum.k=='r'"},
  {"calculate":"datum.p=='b'?0.98243:1","as":"kk"},
  {"calculate":"(datum.p=='b'?125.44:0)+datum.kk*(datum.a+datum.s/2)","as":"X"},
  {"calculate":"(datum.p=='b'?0.6875:0)+datum.kk*datum.s*0.8660254","as":"Y"}],
 "mark":{"type":"line","color":"#ff0000","strokeWidth":3},
 "encoding":{
  "x":{"field":"X","type":"quantitative","scale":{"domain":[-22.918,227.58],"nice":false,"zero":false},"axis":null},
  "y":{"field":"Y","type":"quantitative","scale":{"domain":[-17.723,86.096],"nice":false,"zero":false},"axis":null},
  "detail":{"field":"c"},"order":{"value":null}}},
{"data":{"name":"curves"},
 "transform":[{"filter":"datum.k=='d'"},
  {"calculate":"datum.p=='b'?0.98243:1","as":"kk"},
  {"calculate":"(datum.p=='b'?125.44:0)+datum.kk*(datum.a+datum.s/2)","as":"X"},
  {"calculate":"(datum.p=='b'?0.6875:0)+datum.kk*datum.s*0.8660254","as":"Y"}],
 "mark":{"type":"line","color":"#000000","strokeWidth":3.2,"strokeDash":[17,10]},
 "encoding":{
  "x":{"field":"X","type":"quantitative","scale":{"domain":[-22.918,227.58],"nice":false,"zero":false},"axis":null},
  "y":{"field":"Y","type":"quantitative","scale":{"domain":[-17.723,86.096],"nice":false,"zero":false},"axis":null},
  "detail":{"field":"c"},"order":{"value":null}}},
{"data":{"name":"curves"},
 "transform":[{"filter":"datum.k=='b'"},
  {"calculate":"datum.p=='b'?0.98243:1","as":"kk"},
  {"calculate":"(datum.p=='b'?125.44:0)+datum.kk*(datum.a+datum.s/2)","as":"X"},
  {"calculate":"(datum.p=='b'?0.6875:0)+datum.kk*datum.s*0.8660254","as":"Y"}],
 "mark":{"type":"line","color":"#0000ff","strokeWidth":3.2,"strokeJoin":"round"},
 "encoding":{
  "x":{"field":"X","type":"quantitative","scale":{"domain":[-22.918,227.58],"nice":false,"zero":false},"axis":null},
  "y":{"field":"Y","type":"quantitative","scale":{"domain":[-17.723,86.096],"nice":false,"zero":false},"axis":null},
  "detail":{"field":"c"},"order":{"value":null}}},
{"data":{"name":"curves"},
 "transform":[{"filter":"datum.k=='k'"},
  {"calculate":"datum.p=='b'?0.98243:1","as":"kk"},
  {"calculate":"(datum.p=='b'?125.44:0)+datum.kk*(datum.a+datum.s/2)","as":"X"},
  {"calculate":"(datum.p=='b'?0.6875:0)+datum.kk*datum.s*0.8660254","as":"Y"}],
 "mark":{"type":"line","color":"#000000","strokeWidth":3.5,"strokeJoin":"round"},
 "encoding":{
  "x":{"field":"X","type":"quantitative","scale":{"domain":[-22.918,227.58],"nice":false,"zero":false},"axis":null},
  "y":{"field":"Y","type":"quantitative","scale":{"domain":[-17.723,86.096],"nice":false,"zero":false},"axis":null},
  "detail":{"field":"c"},"order":{"value":null}}},
{"data":{"name":"frame"},
 "transform":[{"flatten":["p"]},
  {"calculate":"datum.p=='b'?0.98243:1","as":"kk"},
  {"calculate":"(datum.p=='b'?125.44:0)+datum.kk*(datum.a+datum.s/2)","as":"X"},
  {"calculate":"(datum.p=='b'?0.6875:0)+datum.kk*datum.s*0.8660254","as":"Y"}],
 "mark":{"type":"line","color":"#000000","strokeWidth":6,"strokeJoin":"miter"},
 "encoding":{
  "x":{"field":"X","type":"quantitative","scale":{"domain":[-22.918,227.58],"nice":false,"zero":false},"axis":null},
  "y":{"field":"Y","type":"quantitative","scale":{"domain":[-17.723,86.096],"nice":false,"zero":false},"axis":null},
  "detail":{"field":"p"},"order":{"value":null}}},
{"data":{"name":"ticks"},
 "transform":[{"flatten":["v"]},{"flatten":["p"]},
  {"calculate":"datum.v%10==0?1.5:0.75","as":"L"},
  {"calculate":"datum.e=='B'?datum.v:(datum.e=='L'?0:90-datum.v)","as":"a"},
  {"calculate":"datum.e=='B'?0:datum.v","as":"s"},
  {"calculate":"datum.e=='B'?datum.v:(datum.e=='L'?datum.L:90-datum.v-datum.L)","as":"a2"},
  {"calculate":"datum.e=='B'?datum.L:(datum.e=='L'?datum.v-datum.L:datum.v)","as":"s2"},
  {"calculate":"datum.p=='b'?0.98243:1","as":"kk"},
  {"calculate":"(datum.p=='b'?125.44:0)+datum.kk*(datum.a+datum.s/2)","as":"X"},
  {"calculate":"(datum.p=='b'?0.6875:0)+datum.kk*datum.s*0.8660254","as":"Y"},
  {"calculate":"(datum.p=='b'?125.44:0)+datum.kk*(datum.a2+datum.s2/2)","as":"X2"},
  {"calculate":"(datum.p=='b'?0.6875:0)+datum.kk*datum.s2*0.8660254","as":"Y2"}],
 "mark":{"type":"rule","color":"#000000","strokeWidth":4},
 "encoding":{
  "x":{"field":"X","type":"quantitative","scale":{"domain":[-22.918,227.58],"nice":false,"zero":false},"axis":null},
  "y":{"field":"Y","type":"quantitative","scale":{"domain":[-17.723,86.096],"nice":false,"zero":false},"axis":null},
  "x2":{"field":"X2"},"y2":{"field":"Y2"}}},
{"data":{"name":"arrows"},
 "transform":[
  {"calculate":"datum.p=='b'?0.98243:1","as":"kk"},
  {"calculate":"(datum.p=='b'?125.44:0)+datum.kk*(datum.a+datum.s/2)","as":"X"},
  {"calculate":"(datum.p=='b'?0.6875:0)+datum.kk*datum.s*0.8660254","as":"Y"},
  {"calculate":"(datum.p=='b'?125.44:0)+datum.kk*(datum.a2+datum.s2/2)","as":"X2"},
  {"calculate":"(datum.p=='b'?0.6875:0)+datum.kk*datum.s2*0.8660254","as":"Y2"}],
 "mark":{"type":"rule","strokeWidth":3},
 "encoding":{
  "x":{"field":"X","type":"quantitative","scale":{"domain":[-22.918,227.58],"nice":false,"zero":false},"axis":null},
  "y":{"field":"Y","type":"quantitative","scale":{"domain":[-17.723,86.096],"nice":false,"zero":false},"axis":null},
  "x2":{"field":"X2"},"y2":{"field":"Y2"},
  "color":{"condition":{"test":"datum.k=='r'","value":"#ff0000"},"value":"#000000"}}},
{"data":{"name":"arrows"},
 "transform":[{"filter":"datum.k=='r'"},
  {"calculate":"datum.p=='b'?0.98243:1","as":"kk"},
  {"calculate":"(datum.p=='b'?125.44:0)+datum.kk*(datum.a+datum.s/2)","as":"X1"},
  {"calculate":"(datum.p=='b'?0.6875:0)+datum.kk*datum.s*0.8660254","as":"Y1"},
  {"calculate":"(datum.p=='b'?125.44:0)+datum.kk*(datum.a2+datum.s2/2)","as":"X"},
  {"calculate":"(datum.p=='b'?0.6875:0)+datum.kk*datum.s2*0.8660254","as":"Y"},
  {"calculate":"atan2(datum.X-datum.X1,datum.Y-datum.Y1)*180/PI","as":"ang"}],
 "mark":{"type":"point","filled":true,"opacity":1,"color":"#ff0000","shape":"M0,0L0.36,1L-0.36,1Z","size":2900},
 "encoding":{
  "x":{"field":"X","type":"quantitative","scale":{"domain":[-22.918,227.58],"nice":false,"zero":false},"axis":null},
  "y":{"field":"Y","type":"quantitative","scale":{"domain":[-17.723,86.096],"nice":false,"zero":false},"axis":null},
  "angle":{"field":"ang","type":"quantitative","scale":null}}},
{"data":{"name":"arrows"},
 "transform":[{"filter":"datum.k=='k'"},
  {"calculate":"datum.p=='b'?0.98243:1","as":"kk"},
  {"calculate":"(datum.p=='b'?125.44:0)+datum.kk*(datum.a+datum.s/2)","as":"X1"},
  {"calculate":"(datum.p=='b'?0.6875:0)+datum.kk*datum.s*0.8660254","as":"Y1"},
  {"calculate":"(datum.p=='b'?125.44:0)+datum.kk*(datum.a2+datum.s2/2)","as":"X"},
  {"calculate":"(datum.p=='b'?0.6875:0)+datum.kk*datum.s2*0.8660254","as":"Y"},
  {"calculate":"atan2(datum.X-datum.X1,datum.Y-datum.Y1)*180/PI","as":"ang"}],
 "mark":{"type":"point","filled":true,"opacity":1,"color":"#000000","shape":"M0,0L0.3,1L-0.3,1Z","size":1600},
 "encoding":{
  "x":{"field":"X","type":"quantitative","scale":{"domain":[-22.918,227.58],"nice":false,"zero":false},"axis":null},
  "y":{"field":"Y","type":"quantitative","scale":{"domain":[-17.723,86.096],"nice":false,"zero":false},"axis":null},
  "angle":{"field":"ang","type":"quantitative","scale":null}}},
{"data":{"name":"ticklabels"},
 "transform":[{"flatten":["v"]},{"flatten":["p"]},{"filter":"datum.e=='B'"},
  {"calculate":"datum.v","as":"a"},{"calculate":"0","as":"s"},
  {"calculate":"datum.p=='b'?0.98243:1","as":"kk"},
  {"calculate":"(datum.p=='b'?125.44:0)+datum.kk*(datum.a+datum.s/2)","as":"X"},
  {"calculate":"(datum.p=='b'?0.6875:0)+datum.kk*datum.s*0.8660254","as":"Y"}],
 "mark":{"type":"text","font":"Liberation Sans","fontSize":42,"color":"#000000","align":"center","baseline":"middle","dx":-5,"dy":31},
 "encoding":{
  "x":{"field":"X","type":"quantitative","scale":{"domain":[-22.918,227.58],"nice":false,"zero":false},"axis":null},
  "y":{"field":"Y","type":"quantitative","scale":{"domain":[-17.723,86.096],"nice":false,"zero":false},"axis":null},
  "text":{"field":"v"}}},
{"data":{"name":"ticklabels"},
 "transform":[{"flatten":["v"]},{"flatten":["p"]},{"filter":"datum.e=='L'"},
  {"calculate":"0","as":"a"},{"calculate":"datum.v","as":"s"},
  {"calculate":"datum.p=='b'?0.98243:1","as":"kk"},
  {"calculate":"(datum.p=='b'?125.44:0)+datum.kk*(datum.a+datum.s/2)","as":"X"},
  {"calculate":"(datum.p=='b'?0.6875:0)+datum.kk*datum.s*0.8660254","as":"Y"}],
 "mark":{"type":"text","font":"Liberation Sans","fontSize":42,"color":"#000000","align":"center","baseline":"middle","dx":-31,"dy":-35},
 "encoding":{
  "x":{"field":"X","type":"quantitative","scale":{"domain":[-22.918,227.58],"nice":false,"zero":false},"axis":null},
  "y":{"field":"Y","type":"quantitative","scale":{"domain":[-17.723,86.096],"nice":false,"zero":false},"axis":null},
  "text":{"field":"v"}}},
{"data":{"name":"ticklabels"},
 "transform":[{"flatten":["v"]},{"flatten":["p"]},{"filter":"datum.e=='R'"},
  {"calculate":"90-datum.v","as":"a"},{"calculate":"datum.v","as":"s"},
  {"calculate":"datum.p=='b'?0.98243:1","as":"kk"},
  {"calculate":"(datum.p=='b'?125.44:0)+datum.kk*(datum.a+datum.s/2)","as":"X"},
  {"calculate":"(datum.p=='b'?0.6875:0)+datum.kk*datum.s*0.8660254","as":"Y"}],
 "mark":{"type":"text","font":"Liberation Sans","fontSize":42,"color":"#000000","align":"center","baseline":"middle","dx":35,"dy":-25},
 "encoding":{
  "x":{"field":"X","type":"quantitative","scale":{"domain":[-22.918,227.58],"nice":false,"zero":false},"axis":null},
  "y":{"field":"Y","type":"quantitative","scale":{"domain":[-17.723,86.096],"nice":false,"zero":false},"axis":null},
  "text":{"field":"v"}}},
{"data":{"name":"labels"},
 "transform":[{"filter":"datum.k=='k'"},
  {"calculate":"datum.p=='b'?0.98243:1","as":"kk"},
  {"calculate":"(datum.p=='b'?125.44:0)+datum.kk*(datum.a+datum.s/2)","as":"X"},
  {"calculate":"(datum.p=='b'?0.6875:0)+datum.kk*datum.s*0.8660254","as":"Y"}],
 "mark":{"type":"text","font":"Liberation Sans","fontSize":38,"color":"#000000","align":"center","baseline":"middle"},
 "encoding":{
  "x":{"field":"X","type":"quantitative","scale":{"domain":[-22.918,227.58],"nice":false,"zero":false},"axis":null},
  "y":{"field":"Y","type":"quantitative","scale":{"domain":[-17.723,86.096],"nice":false,"zero":false},"axis":null},
  "text":{"field":"t"}}},
{"data":{"name":"labels"},
 "transform":[{"filter":"datum.k=='b'"},
  {"calculate":"datum.p=='b'?0.98243:1","as":"kk"},
  {"calculate":"(datum.p=='b'?125.44:0)+datum.kk*(datum.a+datum.s/2)","as":"X"},
  {"calculate":"(datum.p=='b'?0.6875:0)+datum.kk*datum.s*0.8660254","as":"Y"}],
 "mark":{"type":"text","font":"Liberation Sans","fontSize":35,"color":"#0000ff","align":"center","baseline":"middle"},
 "encoding":{
  "x":{"field":"X","type":"quantitative","scale":{"domain":[-22.918,227.58],"nice":false,"zero":false},"axis":null},
  "y":{"field":"Y","type":"quantitative","scale":{"domain":[-17.723,86.096],"nice":false,"zero":false},"axis":null},
  "text":{"field":"t"}}},
{"data":{"name":"labels"},
 "transform":[{"filter":"datum.k=='v'"},
  {"calculate":"datum.p=='b'?0.98243:1","as":"kk"},
  {"calculate":"(datum.p=='b'?125.44:0)+datum.kk*(datum.a+datum.s/2)","as":"X"},
  {"calculate":"(datum.p=='b'?0.6875:0)+datum.kk*datum.s*0.8660254","as":"Y"}],
 "mark":{"type":"text","font":"Liberation Sans","fontSize":35,"color":"#0000ff","align":"center","baseline":"middle","angle":270},
 "encoding":{
  "x":{"field":"X","type":"quantitative","scale":{"domain":[-22.918,227.58],"nice":false,"zero":false},"axis":null},
  "y":{"field":"Y","type":"quantitative","scale":{"domain":[-17.723,86.096],"nice":false,"zero":false},"axis":null},
  "text":{"field":"t"}}},
{"data":{"name":"labels"},
 "transform":[{"filter":"datum.k=='r'"},
  {"calculate":"datum.p=='b'?0.98243:1","as":"kk"},
  {"calculate":"(datum.p=='b'?125.44:0)+datum.kk*(datum.a+datum.s/2)","as":"X"},
  {"calculate":"(datum.p=='b'?0.6875:0)+datum.kk*datum.s*0.8660254","as":"Y"}],
 "mark":{"type":"text","font":"Liberation Sans","fontSize":36,"color":"#ff0000","align":"center","baseline":"middle"},
 "encoding":{
  "x":{"field":"X","type":"quantitative","scale":{"domain":[-22.918,227.58],"nice":false,"zero":false},"axis":null},
  "y":{"field":"Y","type":"quantitative","scale":{"domain":[-17.723,86.096],"nice":false,"zero":false},"axis":null},
  "text":{"field":"t"}}},
{"data":{"name":"titles"},
 "transform":[
  {"calculate":"datum.p=='b'?0.98243:1","as":"kk"},
  {"calculate":"(datum.p=='b'?125.44:0)+datum.kk*(datum.a+datum.s/2)","as":"X"},
  {"calculate":"(datum.p=='b'?0.6875:0)+datum.kk*datum.s*0.8660254","as":"Y"}],
 "mark":{"type":"text","font":"Liberation Sans","fontSize":49,"color":"#000000","align":"center","baseline":"alphabetic"},
 "encoding":{
  "x":{"field":"X","type":"quantitative","scale":{"domain":[-22.918,227.58],"nice":false,"zero":false},"axis":null},
  "y":{"field":"Y","type":"quantitative","scale":{"domain":[-17.723,86.096],"nice":false,"zero":false},"axis":null},
  "text":{"field":"t"}}}
]
}
